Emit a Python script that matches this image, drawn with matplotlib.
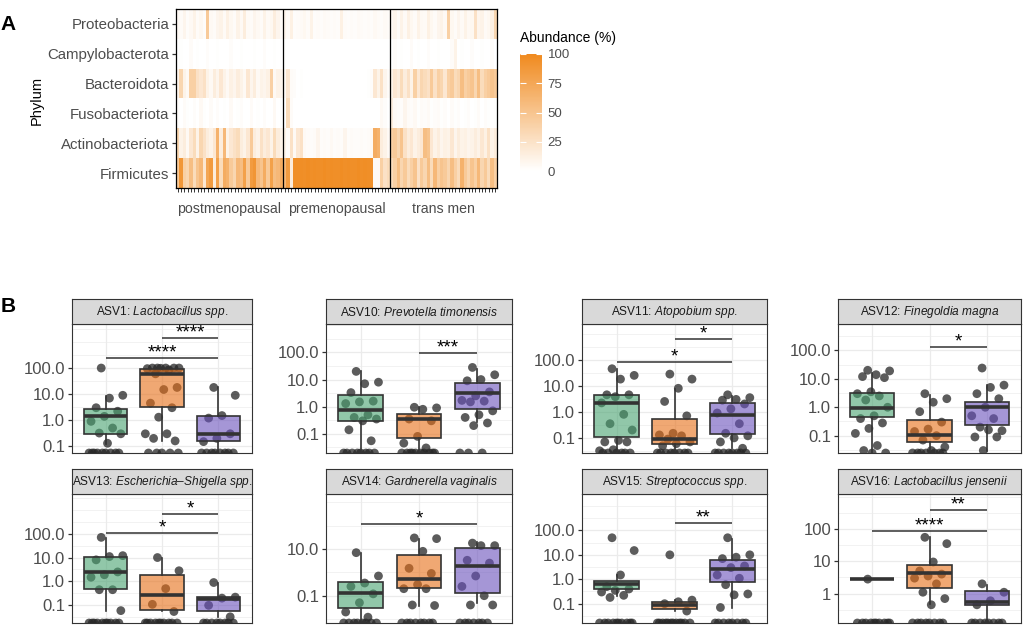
import numpy as np
import matplotlib
matplotlib.use('Agg')
import matplotlib.pyplot as plt
from matplotlib.colors import LinearSegmentedColormap
from matplotlib.ticker import NullLocator
import matplotlib.transforms as mtransforms

plt.rcParams['font.family'] = ['Liberation Sans', 'DejaVu Sans']
plt.rcParams['mathtext.fontset'] = 'custom'
plt.rcParams['mathtext.rm'] = 'Liberation Sans'
plt.rcParams['mathtext.it'] = 'Liberation Sans:italic'

# ---------------- Panel A data ----------------
groups = ['postmenopausal', 'premenopausal', 'trans men']
phyla = ['Proteobacteria', 'Campylobacterota', 'Bacteroidota',
         'Fusobacteriota', 'Actinobacteriota', 'Firmicutes']

proteobacteria = [5,3,8,2,5,10,3,6,2,45,5,3,8,10,4,12,6,3,10,5,15,4,3,8,5,3,10,4,6,15,8,3,
                  8,3,12,2,3,4,6,3,10,2,3,2,4,3,2,3,2,12,3,2,3,2,4,3,2,3,2,5,3,2,4,3,
                  5,8,3,10,4,12,6,3,10,5,4,12,6,3,8,10,5,40,6,3,8,4,10,5,6,25,8,10,4,6,12,35]
campylobacterota = [0,1,0,0,3,0,1,0,0,2,0,0,1,0,0,0,2,0,0,1,0,0,0,1,0,0,2,0,0,1,0,0,
                    1,0,0,0,0,0,0,0,0,0,0,0,0,0,0,0,0,0,0,0,0,0,0,0,0,0,0,0,0,0,0,0,
                    0,2,0,1,0,0,3,0,1,0,0,2,0,0,1,0,0,0,3,10,0,1,0,0,2,0,0,1,0,0,2,0]
bacteroidota = [8,35,10,5,40,40,25,20,25,10,5,15,8,20,10,5,12,8,15,10,5,20,8,15,5,10,8,12,40,5,10,8,
                5,20,3,2,0,1,0,0,0,0,0,0,0,0,0,0,0,0,0,0,0,0,0,0,0,1,2,20,10,25,8,3,
                10,20,15,30,15,25,10,40,20,35,30,25,45,25,40,35,20,40,45,30,35,55,40,45,50,35,55,30,40,45,50,45]
fusobacteriota = [2,0,3,1,0,2,0,5,1,0,3,0,2,0,1,0,4,0,1,2,0,0,3,0,1,0,2,0,0,5,0,1,
                  0,30,3,0,0,0,0,0,0,0,0,0,0,0,0,0,0,0,0,0,0,0,0,0,0,0,0,0,0,5,2,0,
                  15,5,3,2,8,3,2,5,1,3,2,4,1,2,3,1,2,0,3,1,2,0,1,2,0,1,3,0,2,1,0,1]
actinobacteriota = [35,10,15,5,20,30,10,35,25,15,10,20,65,15,60,10,20,25,30,15,10,20,45,15,10,25,15,20,10,30,15,10,
                    10,3,25,5,20,25,5,3,2,3,8,2,3,2,5,2,3,2,8,2,3,2,2,3,2,3,5,70,65,15,10,5,
                    40,45,35,50,25,15,20,10,15,20,55,50,20,10,15,8,12,10,20,8,15,10,12,8,10,15,10,20,12,25,10,15]
firmicutes = [45,88,40,35,55,30,50,60,20,75,85,15,80,30,70,65,45,35,60,55,80,45,85,90,60,50,70,45,80,55,60,70,
              60,85,15,95,95,96,95,97,95,96,95,95,97,95,96,95,95,97,95,96,95,95,97,95,96,95,95,5,5,40,25,30,
              30,40,55,35,45,30,40,50,25,45,35,55,30,60,40,50,45,35,55,40,30,65,45,35,50,40,60,35,45,30,55,40]
abund_ticks = [0, 25, 50, 75, 100]

# ---------------- Panel B data ----------------
asv_ids = ['ASV1', 'ASV10', 'ASV11', 'ASV12', 'ASV13', 'ASV14', 'ASV15', 'ASV16']
species = ['Lactobacillus spp.', 'Prevotella timonensis', 'Atopobium spp.', 'Finegoldia magna',
           'Escherichia–Shigella spp.', 'Gardnerella vaginalis', 'Streptococcus spp.',
           'Lactobacillus jensenii']

# abundance (%) of each sample, per group (post, pre, trans); 0 = not detected
points = [
    [[100, 9, 7, 3, 2.2, 1.4, 0.9, 0.5, 0.32, 0.3, 0.13, 0, 0, 0, 0, 0, 0, 0, 0, 0],
     [100, 100, 100, 100, 100, 98, 95, 85, 60, 18, 15, 4.5, 3, 1.3, 0.3, 0.3, 0.2, 0.16, 0, 0, 0, 0, 0],
     [18, 9, 1.5, 1.2, 0.3, 0.2, 0.15, 0, 0, 0, 0, 0, 0, 0, 0]],
    [[20, 8, 7, 3.3, 1.6, 1.5, 1.3, 0.5, 0.4, 0.35, 0.3, 0.14, 0.055, 0, 0, 0, 0, 0, 0, 0, 0],
     [0.95, 0.9, 0.8, 0.35, 0.3, 0.08, 0.045, 0.03, 0, 0, 0, 0, 0, 0, 0, 0, 0, 0],
     [28, 15, 10, 9, 3.5, 2.5, 1.7, 1.6, 1.5, 0.7, 0.5, 0.4, 0.25, 0.2, 0, 0, 0]],
    [[45, 25, 18, 4.5, 4.5, 3.8, 2.2, 0.8, 0.35, 0.2, 0.08, 0.07, 0.07, 0.035, 0.032, 0, 0, 0, 0, 0, 0],
     [28, 18, 8, 2.5, 0.7, 0.15, 0.13, 0.12, 0.09, 0.07, 0.06, 0.05, 0, 0, 0, 0, 0, 0, 0, 0],
     [4.5, 3.5, 3, 2.8, 2, 1.3, 0.9, 0.35, 0.15, 0.12, 0.1, 0.07, 0.04, 0, 0, 0, 0, 0, 0, 0, 0]],
    [[20, 19, 14, 12, 11, 3.5, 3, 2.5, 1.8, 1.0, 0.5, 0.4, 0.28, 0.18, 0.12, 0.045, 0.03, 0, 0],
     [3, 2, 1.5, 0.7, 0.3, 0.17, 0.14, 0.1, 0.07, 0.04, 0.03, 0, 0, 0, 0, 0, 0, 0],
     [24, 6, 5, 3, 2, 1.0, 0.5, 0.4, 0.2, 0.15, 0.16, 0.09, 0.09, 0.03]],
    [[70, 12, 11, 8, 2.5, 1.9, 1.5, 0.45, 0.45, 0.06, 0, 0, 0, 0, 0, 0, 0, 0, 0, 0],
     [10, 2.8, 0.5, 0.11, 0.055, 0, 0, 0, 0, 0, 0, 0, 0, 0, 0],
     [0.9, 0.22, 0.2, 0.1, 0.033, 0, 0, 0, 0, 0, 0, 0, 0]],
    [[7, 0.7, 0.35, 0.25, 0.12, 0.05, 0.02, 0.012, 0, 0, 0, 0, 0, 0, 0, 0],
     [30, 28, 8, 1.5, 0.9, 0.3, 0.2, 0.2, 0.04, 0.038, 0, 0, 0, 0, 0, 0, 0, 0],
     [18, 14, 14, 3.3, 2.5, 0.7, 0.25, 0.1, 0.04, 0.04, 0, 0, 0, 0, 0, 0, 0]],
    [[50, 15, 1.5, 0.5, 0.4, 0.35, 0.3, 0.22, 0.18, 0, 0, 0, 0, 0, 0, 0, 0, 0, 0],
     [10, 0.14, 0.12, 0.1, 0.05, 0, 0, 0, 0, 0, 0, 0, 0, 0, 0, 0, 0],
     [50, 10, 8, 7, 3.5, 3, 1.5, 1.1, 0.6, 0.25, 0.23, 0.07, 0, 0, 0, 0, 0, 0, 0, 0]],
    [[2.8, 0, 0, 0, 0, 0, 0, 0, 0, 0, 0],
     [55, 35, 9.5, 5, 4, 3.5, 3, 2, 1.1, 0.7, 0.45, 0, 0, 0, 0, 0, 0, 0, 0],
     [2, 1.1, 0.6, 0.45, 0, 0, 0, 0, 0, 0, 0, 0]],
]

# box statistics per group: (q1, median, q3, lower whisker, upper whisker)
box_stats = [
    [(0.30, 1.4, 2.75, 0.12, 8.7), (3.1, 59, 95, 0.155, 100), (0.155, 0.30, 1.5, 0.04, 18)],
    [(0.30, 0.76, 2.75, 0.01, 20), (0.069, 0.35, 0.55, 0.01, 1.0), (0.81, 3.2, 7.4, 0.28, 24)],
    [(0.105, 2.2, 4.5, 0.01, 45), (0.059, 0.092, 0.53, 0.01, 7.7), (0.145, 0.74, 2.2, 0.04, 4.2)],
    [(0.44, 0.93, 3.2, 0.01, 16), (0.06, 0.105, 0.36, 0.01, 2.8), (0.245, 1.0, 1.5, 0.028, 5.9)],
    [(0.48, 2.6, 11, 0.056, 66), (0.066, 0.26, 1.8, 0.056, 9.6), (0.056, 0.186, 0.22, 0.033, 0.9)],
    [(0.029, 0.13, 0.37, 0.001, 6.7), (0.21, 0.52, 5.7, 0.037, 28), (0.13, 1.8, 11, 0.049, 21)],
    [(0.4, 0.66, 0.87, 0.2, 1.45), (0.063, 0.085, 0.12, 0.05, 0.14), (0.74, 2.7, 6.3, 0.065, 45)],
    [(2.8, 2.8, 2.8, 2.8, 2.8), (1.5, 4.2, 7.4, 0.49, 56), (0.44, 0.55, 1.17, 0.1, 1.9)],
]

# significance brackets: (group a, group b, y, label)
signif = [
    [(1, 3, 243, '****'), (2, 3, 1410, '****')],
    [(2, 3, 95, '***')],
    [(1, 3, 79, '*'), (2, 3, 640, '*')],
    [(2, 3, 128, '*')],
    [(1, 3, 106, '*'), (2, 3, 665, '*')],
    [(1, 3, 118, '*')],
    [(2, 3, 210, '**')],
    [(1, 3, 89, '****'), (2, 3, 377, '**')],
]

y_breaks = [[0.1, 1, 10, 100]] * 5 + [[0.1, 10]] + [[0.1, 1, 10, 100]] + [[1, 10, 100]]
y_labels = [['0.1', '1.0', '10.0', '100.0']] * 5 + [['0.1', '10.0']] + \
           [['0.1', '1.0', '10.0', '100.0']] + [['1', '10', '100']]
y_log_limits = [(-1.26, 3.69), (-1.71, 3.05), (-1.58, 3.37), (-1.61, 2.93),
                (-1.74, 3.66), (-2.17, 3.36), (-1.79, 3.49), (-0.91, 3.08)]

# ---------------- Figure ----------------
W, H = 1024, 628
fig = plt.figure(figsize=(W / 100, H / 100), dpi=100)


def fax(x0, y0, x1, y1):
    """axes from pixel box (top-left origin)"""
    return fig.add_axes([x0 / W, 1 - y1 / H, (x1 - x0) / W, (y1 - y0) / H])


TXT = '#4D4D4D'
DARK = '#333333'

# ---- Panel A: heatmap ----
mat = np.array([proteobacteria, campylobacterota, bacteroidota,
                fusobacteriota, actinobacteriota, firmicutes], dtype=float)
ncol = mat.shape[1]
ng = ncol // len(groups)
cmap = LinearSegmentedColormap.from_list('wo', ['#FFFFFF', '#F08A1E'])
axh = fax(176, 9, 497, 188)
im = axh.imshow(mat, aspect='auto', cmap=cmap, vmin=0, vmax=100,
                interpolation='nearest', extent=(0, ncol, len(phyla), 0))
axh.set_xlim(0, ncol)
axh.set_ylim(len(phyla), 0)
axh.set_yticks(np.arange(len(phyla)) + 0.5)
axh.set_yticklabels(phyla, fontsize=10.8, color=TXT)
axh.set_xticks(np.arange(ncol) + 0.5)
axh.set_xticklabels([])
axh.tick_params(axis='x', length=3, width=0.7, color=DARK)
axh.tick_params(axis='y', length=3, width=0.9, color=DARK, pad=2)
for k in range(1, len(groups)):
    axh.axvline(k * ng, color='black', lw=0.9)
for s in axh.spines.values():
    s.set_color('black')
    s.set_linewidth(0.9)
trans = mtransforms.blended_transform_factory(axh.transData, axh.transAxes)
for k, g in enumerate(groups):
    axh.text(k * ng + ng / 2, -0.12, g, transform=trans, ha='center', va='center',
             fontsize=10.2, color=TXT)
fig.text(37 / W, 1 - 100 / H, 'Phylum', rotation=90, ha='center', va='center', fontsize=10.5)

cax = fax(520, 54, 542, 171)
cb = fig.colorbar(im, cax=cax, ticks=abund_ticks)
cb.outline.set_visible(False)
cax.tick_params(axis='y', direction='in', color='white', length=4, width=0.8,
                left=True, right=True, labelsize=9.5, labelcolor=TXT, pad=4)
fig.text(520 / W, 1 - 38 / H, 'Abundance (%)', ha='left', va='center', fontsize=10)

fig.text(0.5 / W, 1 - 25 / H, 'A', ha='left', va='center', fontsize=15, weight='bold')
fig.text(0.5 / W, 1 - 306 / H, 'B', ha='left', va='center', fontsize=15, weight='bold')

# ---- Panel B: boxplots ----
cols_px = [(72, 252), (326, 512), (582, 767), (838, 1021)]
rows_px = [(299, 324, 453), (469, 494, 623)]
base_cols = [(72, 163, 113), (230, 110, 22), (105, 80, 188)]
box_fc = [(r / 255, g / 255, b / 255, 0.6) for r, g, b in base_cols]

for i in range(len(asv_ids)):
    r, c = divmod(i, 4)
    x0, x1 = cols_px[c]
    st, sb, pb = rows_px[r]
    ax = fax(x0, sb, x1, pb)
    sax = fax(x0, st, x1, sb)

    lo, hi = y_log_limits[i]
    ax.set_yscale('log')
    ax.set_ylim(10 ** lo, 10 ** hi)
    ax.set_xlim(0.4, 3.6)

    # grid
    brk = np.log10(y_breaks[i])
    step = brk[1] - brk[0]
    v = brk[0] - 4 * step
    while v <= hi + 1e-9:
        if v >= lo - 1e-9:
            is_major = any(abs(v - b) < 1e-6 for b in brk)
            ax.axhline(10 ** v, color='#EBEBEB', lw=0.9 if is_major else 0.45, zorder=0)
        v += step / 2
    for gx in (1, 2, 3):
        ax.axvline(gx, color='#EBEBEB', lw=0.9, zorder=0)

    # jittered points
    bottom = 10 ** lo
    for g, vals in enumerate(points[i]):
        n = len(vals)
        offs = (((np.arange(n) * 0.61803398875 + 0.37) % 1.0) - 0.5) * 0.62
        ys = [val if val > 0 else bottom for val in vals]
        ax.scatter(g + 1 + offs, ys, s=40, color='#262626', alpha=0.75,
                   edgecolors='none', zorder=2, clip_on=True)

    # boxes
    stats = []
    for (q1, med, q3, wl, wh) in box_stats[i]:
        stats.append(dict(q1=q1, med=med, q3=q3, whislo=wl, whishi=wh, fliers=[]))
    bp = ax.bxp(stats, positions=[1, 2, 3], widths=0.77, patch_artist=True,
                showfliers=False, showcaps=False,
                boxprops=dict(edgecolor=DARK, linewidth=1.2),
                whiskerprops=dict(color=DARK, linewidth=1.2),
                medianprops=dict(color=DARK, linewidth=2.6, solid_capstyle='butt'),
                zorder=3, manage_ticks=False)
    for patch, fc in zip(bp['boxes'], box_fc):
        patch.set_facecolor(fc)

    # significance
    for a, b, yv, lab in signif[i]:
        ax.plot([a, b], [yv, yv], color=DARK, lw=1.1, zorder=4, solid_capstyle='butt')
        ax.annotate(lab, xy=((a + b) / 2, yv), xytext=(0, 0.3), textcoords='offset points',
                    ha='center', va='baseline', fontsize=13.5, color='black', zorder=5)

    ax.set_yticks(y_breaks[i])
    ax.set_yticklabels(y_labels[i])
    ax.yaxis.set_minor_locator(NullLocator())
    ax.tick_params(axis='y', length=3, width=0.9, color=DARK, labelsize=12,
                   labelcolor=TXT, pad=2)
    ax.set_xticks([])
    for s in ax.spines.values():
        s.set_color(DARK)
        s.set_linewidth(0.8)

    # strip
    sax.set_facecolor('#D9D9D9')
    sax.set_xticks([])
    sax.set_yticks([])
    for s in sax.spines.values():
        s.set_color(DARK)
        s.set_linewidth(0.8)
    sp = species[i].replace(' ', r'\ ')
    sax.text(0.5, 0.48, asv_ids[i] + ': $\\mathit{' + sp + '}$', ha='center', va='center',
             fontsize=8.6, color='#1A1A1A', transform=sax.transAxes)

fig.savefig('out.png', dpi=100)
